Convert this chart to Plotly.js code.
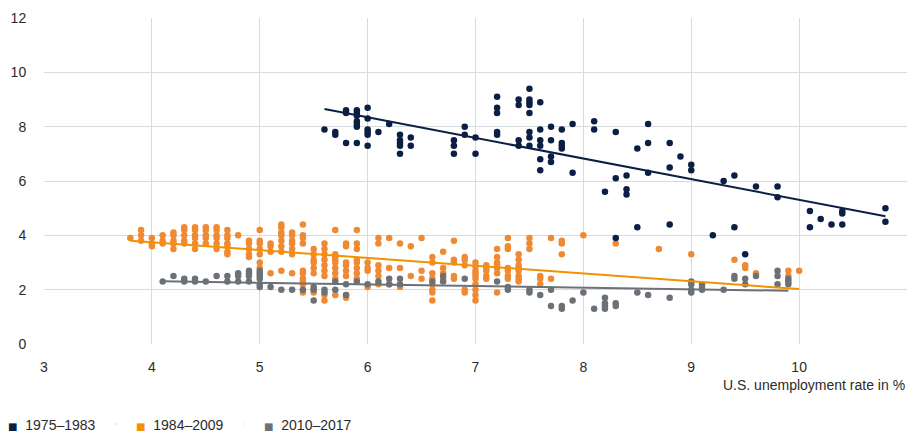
<!DOCTYPE html>
<html><head><meta charset="utf-8">
<script src="https://cdn.plot.ly/plotly-3.0.1.min.js"></script>
<style>html,body{margin:0;padding:0;background:#fff}#chart{width:912px;height:432px}</style>
</head><body><div id="chart"></div>
<script>
const seriesNames = ['1975–1983', '1984–2009', '2010–2017'];
const xTitle = 'U.S. unemployment rate in %';
const xTicks = [3, 4, 5, 6, 7, 8, 9, 10, 11];
const yTicks = [0, 2, 4, 6, 8, 10, 12];

// 1975–1983
const navyX = [5.6, 5.7,5.7, 5.8,5.8,5.8, 5.9,5.9,5.9,5.9,5.9,5.9,5.9, 6.0,6.0,6.0,6.0,6.0,6.0, 6.1, 6.2,
  6.3,6.3,6.3,6.3,6.3, 6.4,6.4, 6.8,6.8,6.8, 6.9,6.9, 7.0,7.0, 7.2,7.2,7.2,7.2,7.2, 7.4,7.4,7.4,7.4,
  7.5,7.5,7.5,7.5,7.5,7.5,7.5,7.5, 7.6,7.6,7.6,7.6,7.6,7.6, 7.7,7.7,7.7,7.7, 7.8,7.8,7.8,7.8, 7.9,7.9,
  8.1,8.1, 8.2, 8.3,8.3,8.3, 8.4,8.4,8.4, 8.5,8.5, 8.6,8.6,8.6, 8.8,8.8,8.8, 8.9, 9.0,9.0, 9.2, 9.3,
  9.4,9.4, 9.5, 9.6, 9.8,9.8, 10.1,10.1, 10.2, 10.3, 10.4,10.4,10.4, 10.8,10.8];
const navyY = [7.9, 7.8,7.7, 8.6,8.5,7.4, 8.6,8.5,8.4,8.2,8.1,8.0,7.4, 8.7,8.3,7.9,7.8,7.7,7.3, 7.8, 8.1,
  7.7,7.5,7.4,7.3,7.0, 7.6,7.3, 7.5,7.3,7.0, 8.0,7.7, 7.6,7.0, 9.1,8.7,8.5,7.8,7.7, 9.0,8.8,7.5,7.3,
  9.4,9.0,8.9,8.8,8.5,7.8,7.6,7.3, 8.9,7.9,7.5,7.3,6.8,6.4, 8.0,7.5,6.9,6.7, 7.9,7.4,7.3,7.2, 8.1,6.3,
  8.2,7.9, 5.6, 7.8,6.1,3.9, 6.2,5.7,5.5, 7.2,4.3, 8.1,7.4,6.3, 7.4,6.5,4.4, 6.9, 6.6,6.4, 4.0, 6.0,
  6.2,4.3, 3.3, 5.8, 5.8,5.4, 4.9,4.3, 4.6, 4.4, 4.9,4.8,4.4, 5.0,4.5];

// 1984–2009
const orangeX = [3.8, 3.9,3.9,3.9, 4.0,4.0,4.0, 4.1,4.1,4.1, 4.2,4.2,4.2,4.2,4.2, 4.3,4.3,4.3,4.3,4.3,
  4.4,4.4,4.4,4.4,4.4,4.4, 4.5,4.5,4.5,4.5,4.5, 4.6,4.6,4.6,4.6,4.6,4.6, 4.7,4.7,4.7,4.7,4.7,4.7,4.7, 4.8,
  4.9,4.9,4.9,4.9,4.9, 5.0,5.0,5.0,5.0,5.0,5.0,5.0, 5.1,5.1,5.1,5.1, 5.2,5.2,5.2,5.2,5.2,5.2,5.2,5.2,
  5.3,5.3,5.3,5.3,5.3,5.3,5.3, 5.4,5.4,5.4,5.4,5.4,5.4,5.4,5.4,5.4,5.4, 5.5,5.5,5.5,5.5,5.5,5.5,5.5,5.5,
  5.6,5.6,5.6,5.6,5.6,5.6,5.6,5.6,5.6, 5.7,5.7,5.7,5.7,5.7,5.7,5.7,5.7,5.7, 5.8,5.8,5.8,5.8,5.8,5.8,5.8,5.8,
  5.9,5.9,5.9,5.9,5.9,5.9,5.9,5.9, 6.0,6.0,6.0,6.0, 6.1,6.1,6.1,6.1,6.1,6.1, 6.2,6.2,6.2, 6.3,6.3,6.3,
  6.4,6.4, 6.5,6.5,6.5, 6.6,6.6,6.6,6.6,6.6,6.6,6.6,6.6, 6.7,6.7,6.7,6.7, 6.8,6.8,6.8,6.8,6.8,
  6.9,6.9,6.9,6.9,6.9, 7.0,7.0,7.0,7.0,7.0,7.0,7.0,7.0,7.0,7.0, 7.1,7.1,7.1,7.1,7.1,
  7.2,7.2,7.2,7.2,7.2,7.2,7.2, 7.3,7.3,7.3,7.3,7.3,7.3,7.3, 7.4,7.4,7.4,7.4,7.4,7.4,7.4,7.4,
  7.5,7.5,7.5, 7.6,7.6,7.6, 7.7,7.7, 7.8,7.8,7.8, 8.0, 8.3, 8.7, 9.0, 9.4, 9.5,9.5, 9.6, 9.9,9.9, 10.0];
const orangeY = [3.9, 4.2,4.0,3.8, 3.9,3.7,3.6, 4.0,3.8,3.7, 4.1,4.0,3.8,3.7,3.5, 4.3,4.2,4.0,3.8,3.7,
  4.3,4.2,4.0,3.9,3.7,3.5, 4.3,4.2,4.0,3.9,3.7, 4.3,4.2,4.0,3.9,3.7,3.5, 4.2,4.0,3.9,3.7,3.6,3.4,3.3, 4.0,
  3.8,3.7,3.5,3.3,3.2, 4.2,3.8,3.7,3.5,3.3,3.0,2.8, 3.7,3.6,3.4,2.6, 4.4,4.3,4.1,4.0,3.8,3.6,3.4,2.7,
  4.1,4.0,3.8,3.7,3.5,3.3,2.6, 4.4,4.0,3.9,3.7,2.7,2.6,2.4,2.3,2.2,1.9, 3.5,3.3,3.1,3.0,2.8,2.6,2.0,1.9,
  3.7,3.5,3.3,3.1,2.9,2.7,2.5,1.8,1.6, 4.2,3.3,3.2,3.1,3.0,2.8,2.6,2.4,1.8, 3.7,3.6,3.0,2.9,2.7,2.5,1.8,1.7,
  4.2,3.7,3.5,3.1,3.0,2.8,2.6,2.4, 3.0,2.8,2.7,2.1, 3.9,3.7,2.9,2.7,2.5,2.2, 3.9,2.8,2.2, 3.7,2.8,2.1,
  3.6,2.5, 3.9,2.7,2.4, 3.2,3.0,2.6,2.4,2.2,2.0,1.9,1.6, 3.4,2.8,2.6,2.4, 3.8,3.1,3.0,2.5,2.4,
  3.2,3.1,2.9,2.0,1.9, 3.0,2.85,2.7,2.6,2.5,2.4,2.2,2.0,1.8,1.6, 2.9,2.8,2.7,2.5,2.4,
  3.5,3.2,3.0,2.9,2.8,2.6,1.9, 3.9,3.6,3.5,2.8,2.7,2.5,2.4, 3.3,3.1,2.9,2.8,2.7,2.5,2.4,2.3,
  3.9,3.7,3.5, 2.5,2.4,2.2, 3.9,2.4, 3.8,3.7,3.3, 4.0, 3.7, 3.5, 3.3, 3.1, 2.9,2.8, 2.6, 2.7,2.5, 2.7];

// 2010–2017
const grayX = [4.1, 4.2, 4.3,4.3, 4.4,4.4, 4.5, 4.6, 4.7,4.7, 4.8,4.8,4.8, 4.9,4.9,4.9,4.9,
  5.0,5.0,5.0,5.0,5.0,5.0, 5.1, 5.2, 5.3, 5.4, 5.5,5.5,5.5, 5.6,5.6, 5.7,5.7, 5.8,5.8, 5.9, 6.0, 6.1,
  6.2,6.2, 6.3,6.3, 6.6, 6.7,6.7, 6.9, 7.2, 7.3,7.3, 7.5,7.5, 7.6, 7.7,7.7, 7.8,7.8, 7.9, 8.0, 8.1,
  8.2,8.2,8.2,8.2, 8.3,8.3, 8.5, 8.6, 8.8, 9.0,9.0,9.0,9.0, 9.1,9.1,9.1, 9.3, 9.4,9.4, 9.5,9.5, 9.6,
  9.8,9.8,9.8, 9.9,9.9,9.9];
const grayY = [2.3, 2.5, 2.4,2.3, 2.4,2.3, 2.3, 2.5, 2.5,2.3, 2.6,2.5,2.3, 2.7,2.6,2.5,2.3,
  2.7,2.6,2.5,2.4,2.2,2.1, 2.1, 2.0, 2.0, 2.0, 2.1,2.0,1.6, 2.0,1.9, 2.3,2.0, 2.2,1.8, 2.3, 2.2, 2.3,
  2.4,2.2, 2.4,2.2, 2.3, 2.5,2.3, 2.4, 2.3, 2.1,2.0, 2.0,1.9, 1.8, 2.0,1.4, 1.4,1.3, 1.6, 1.9, 1.3,
  1.7,1.5,1.4,1.3, 1.5,1.4, 1.9, 1.8, 1.7, 2.3,2.2,2.0,1.9, 2.2,2.1,2.0, 2.0, 2.5,2.4, 2.4,2.2, 2.5,
  2.7,2.5,2.2, 2.4,2.3,2.2];

// Trend lines (start / end)
const trendNavyX = [5.6, 10.8], trendNavyY = [8.65, 4.7];
const trendOrangeX = [3.8, 10.0], trendOrangeY = [3.8, 2.02];
const trendGrayX = [4.1, 9.9], trendGrayY = [2.31, 1.96];

const cNavy = '#0b1f45', cOrange = '#ef8a33', cOrangeLine = '#f39200', cGray = '#6b7177';
const FONT = 'Liberation Sans, Arial, Helvetica, sans-serif';
const TXT = '#2b2b2b';

const dots = (x, y, c) => ({type:'scatter', mode:'markers', x, y, showlegend:false, hoverinfo:'skip',
  marker:{color:c, size:6.5, line:{width:0}}});
const line = (x, y, c) => ({type:'scatter', mode:'lines', x, y, showlegend:false, hoverinfo:'skip',
  line:{color:c, width:2}});
// legend entries: square key drawn as a text glyph so it sits close to its label
const leg = (name, c) => ({type:'scatter', mode:'markers', x:[null], y:[null],
  name:'<span style="color:' + c + ';font-family:DejaVu Sans;font-size:10px">■</span>  ' + name,
  marker:{size:1, opacity:0}});

const data = [
  dots(orangeX, orangeY, cOrange),
  dots(grayX, grayY, cGray),
  dots(navyX, navyY, cNavy),
  line(trendOrangeX, trendOrangeY, cOrangeLine),
  line(trendGrayX, trendGrayY, cGray),
  line(trendNavyX, trendNavyY, cNavy),
  leg(seriesNames[0], cNavy), leg(seriesNames[1], cOrangeLine), leg(seriesNames[2], cGray)
];

const layout = {
  width:912, height:432,
  margin:{l:44, r:5, t:18, b:88, autoexpand:false},
  paper_bgcolor:'#fff', plot_bgcolor:'#fff',
  font:{family:FONT, size:14, color:TXT},
  xaxis:{range:[3,11], tickvals:xTicks, ticktext:xTicks.map(String), showgrid:true, gridcolor:'#d6dbe0',
    gridwidth:1, zeroline:false, showline:false, ticks:'outside', ticklen:10, tickcolor:'rgba(0,0,0,0)',
    tickfont:{family:FONT, size:14, color:TXT}, fixedrange:true},
  yaxis:{range:[0,12], tickvals:yTicks, ticktext:yTicks.map(String), showgrid:true, gridcolor:'#d6dbe0',
    gridwidth:1, zeroline:false, showline:false, ticks:'outside', ticklen:14, tickcolor:'rgba(0,0,0,0)',
    tickfont:{family:FONT, size:14, color:TXT}, fixedrange:true},
  showlegend:true,
  legend:{orientation:'h', x:-0.088, xanchor:'left', y:-0.247, yanchor:'middle', entrywidth:83,
    entrywidthmode:'pixels', font:{family:FONT, size:14, color:TXT}, itemwidth:30, bgcolor:'rgba(0,0,0,0)'},
  annotations:[{text:xTitle, xref:'paper', yref:'paper', x:1, xanchor:'right', y:-0.126, yanchor:'middle',
    showarrow:false, font:{family:FONT, size:14, color:TXT}}]
};

Plotly.newPlot('chart', data, layout, {displayModeBar:false, staticPlot:true});
</script></body></html>
